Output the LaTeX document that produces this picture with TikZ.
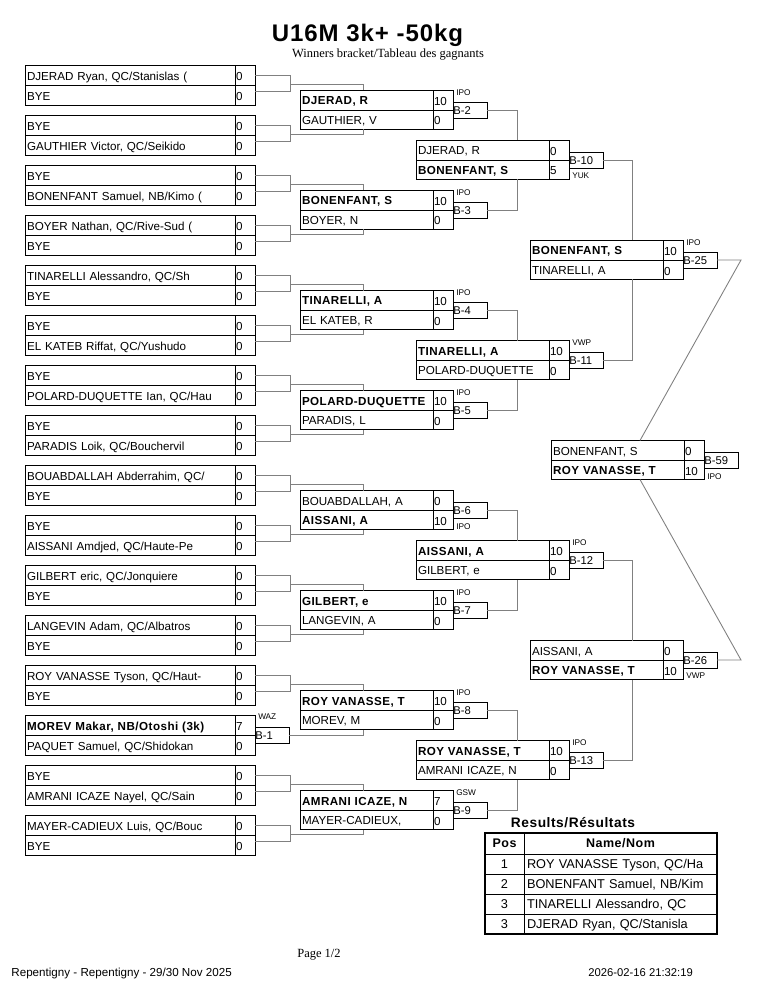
\documentclass[tikz,border=0pt]{standalone}
\usepackage{fontspec}
\setmainfont{Liberation Sans}[BoldFeatures={LetterSpace=4.0}]
\newfontfamily\timesfont{Liberation Serif}
\usepackage{tikz}
\usetikzlibrary{positioning, calc}

\begin{document}
\begin{tikzpicture}[x=0.8pt, y=-0.8pt,
    cell/.style={draw, line width=0.7pt, outer sep=0pt, inner xsep=1.6pt, inner ysep=0pt,
        align=left, text height=9.6pt, text depth=1.2pt, font=\fontsize{9.3}{10}\selectfont},
    entrant/.style={cell, text width=164.8pt, minimum height=16pt},
    fighter/.style={cell, text width=103.2pt, minimum height=15.6pt, text height=8.8pt},
    score/.style={cell, inner xsep=0.8pt, text width=14.4pt, minimum height=#1},
    score/.default=16pt,
    boutbox/.style={draw, line width=0.7pt, fill=white, outer sep=0pt, inner xsep=0.2pt, inner ysep=0pt,
        text width=26.8pt, minimum height=12.8pt, align=left, text height=6.5pt, text depth=0pt,
        font=\fontsize{9}{10}\selectfont},
    result/.style={inner sep=0pt, font=\fontsize{6.6}{7}\selectfont},
    link/.style={draw=black!50, line width=0.7pt},
    tcell/.style={draw, line width=0.7pt, outer sep=0pt, inner xsep=2.4pt, inner ysep=0pt,
        minimum height=16pt, text height=8pt, text depth=1.6pt, font=\fontsize{10.2}{12}\selectfont},
]
\fill[white] (0,0) rectangle (765,990);
\useasboundingbox (0,0) rectangle (765,990);

% Heading
\node[font=\bfseries\fontsize{19.2}{22}\selectfont, anchor=base] (title) at (367.5,42) {U16M 3k+ -50kg};
\node[font=\timesfont\fontsize{10}{12}\selectfont, anchor=base] (subtitle) at (388,58) {Winners bracket/Tableau des gagnants};

% First round
\foreach \pr/\nameA/\scoreA/\nameB/\scoreB in {
    1/{DJERAD Ryan, QC/Stanislas (}/0/BYE/0,
    2/BYE/0/{GAUTHIER Victor, QC/Seikido}/0,
    3/BYE/0/{BONENFANT Samuel, NB/Kimo (}/0,
    4/{BOYER Nathan, QC/Rive-Sud (}/0/BYE/0,
    5/{TINARELLI Alessandro, QC/Sh}/0/BYE/0,
    6/BYE/0/{EL KATEB Riffat, QC/Yushudo}/0,
    7/BYE/0/{POLARD-DUQUETTE Ian, QC/Hau}/0,
    8/BYE/0/{PARADIS Loik, QC/Bouchervil}/0,
    9/{BOUABDALLAH Abderrahim, QC/}/0/BYE/0,
    10/BYE/0/{AISSANI Amdjed, QC/Haute-Pe}/0,
    11/{GILBERT eric, QC/Jonquiere}/0/BYE/0,
    12/{LANGEVIN Adam, QC/Albatros}/0/BYE/0,
    13/{ROY VANASSE Tyson, QC/Haut-}/0/BYE/0,
    14/{\bfseries MOREV Makar, NB/Otoshi (3k)}/7/{PAQUET Samuel, QC/Shidokan}/0,
    15/BYE/0/{AMRANI ICAZE Nayel, QC/Sain}/0,
    16/{MAYER-CADIEUX Luis, QC/Bouc}/0/BYE/0} {
    \pgfmathsetmacro{\ytop}{15+50*\pr}
    \node[entrant, anchor=north west] (pa\pr) at (25,\ytop) {\nameA};
    \node[entrant, below=0pt of pa\pr] (pb\pr) {\nameB};
    \node[score, right=0pt of pa\pr] (sa\pr) {\scoreA};
    \node[score, right=0pt of pb\pr] (sb\pr) {\scoreB};
}

% Brackets of the first round
\foreach \pr in {1,...,13,15,16} {
    \draw[link] (sa\pr.east) -- ++(35,0) |- ([yshift=3.2pt]sb\pr.east);
    \coordinate (j\pr) at ($(sa\pr.east)+(35,9)$);
}
\node[boutbox, anchor=west] (b1) at (sa14.south east) {B-1};
\node[result, anchor=south west] (l1) at ([xshift=2.4pt, yshift=5.6pt]b1.north west) {WAZ};
\coordinate (j14) at (b1.east);

% Later rounds
\foreach \id/\x/\y/\nameA/\scoreA/\nameB/\scoreB/\lab/\up in {
    2/300/110/{\bfseries DJERAD, R}/10/{GAUTHIER, V}/0/IPO/1,
    3/300/210/{\bfseries BONENFANT, S}/10/{BOYER, N}/0/IPO/1,
    4/300/310/{\bfseries TINARELLI, A}/10/{EL KATEB, R}/0/IPO/1,
    5/300/410/{\bfseries POLARD-DUQUETTE}/10/{PARADIS, L}/0/IPO/1,
    6/300/510/{BOUABDALLAH, A}/0/{\bfseries AISSANI, A}/10/IPO/0,
    7/300/610/{\bfseries GILBERT, e}/10/{LANGEVIN, A}/0/IPO/1,
    8/300/710/{\bfseries ROY VANASSE, T}/10/{MOREV, M}/0/IPO/1,
    9/300/810/{\bfseries AMRANI ICAZE, N}/7/{MAYER-CADIEUX,}/0/GSW/1,
    10/416/160/{DJERAD, R}/0/{\bfseries BONENFANT, S}/5/YUK/0,
    11/416/360/{\bfseries TINARELLI, A}/10/POLARD-DUQUETTE/0/VWP/1,
    12/416/560/{\bfseries AISSANI, A}/10/{GILBERT, e}/0/IPO/1,
    13/416/760/{\bfseries ROY VANASSE, T}/10/{AMRANI ICAZE, N}/0/IPO/1,
    25/530/260/{\bfseries BONENFANT, S}/10/{TINARELLI, A}/0/IPO/1,
    26/530/660/{AISSANI, A}/0/{\bfseries ROY VANASSE, T}/10/VWP/0,
    59/551/460/{BONENFANT, S}/0/{\bfseries ROY VANASSE, T}/10/IPO/0} {
    \node[fighter, anchor=south west] (na\id) at (\x,\y) {\nameA};
    \node[fighter, below=0pt of na\id] (nb\id) {\nameB};
    \node[score=15.6pt, right=0pt of na\id] (qa\id) {\scoreA};
    \node[score=15.6pt, right=0pt of nb\id] (qb\id) {\scoreB};
    \node[boutbox, anchor=west] (b\id) at (qa\id.south east) {B-\id};
    \ifnum\up=1
        \node[result, anchor=south west] (l\id) at ([xshift=2.4pt, yshift=5.2pt]b\id.north west) {\lab};
    \else
        \node[result, anchor=north west] (l\id) at ([xshift=2.4pt, yshift=-4pt]b\id.south west) {\lab};
    \fi
}

% Connectors
\foreach \pr/\bout/\row/\corner in {1/2/a/north west, 2/2/b/south west, 3/3/a/north west, 4/3/b/south west,
    5/4/a/north west, 6/4/b/south west, 7/5/a/north west, 8/5/b/south west,
    9/6/a/north west, 10/6/b/south west, 11/7/a/north west, 12/7/b/south west,
    13/8/a/north west, 14/8/b/south west, 15/9/a/north west, 16/9/b/south west}
    \draw[link] (j\pr) -| ([xshift=50.4pt]n\row\bout.\corner);
\foreach \id/\bout/\row/\corner in {2/10/a/north west, 3/10/b/south west, 4/11/a/north west, 5/11/b/south west,
    6/12/a/north west, 7/12/b/south west, 8/13/a/north west, 9/13/b/south west}
    \draw[link] (b\id.east) -| ([xshift=80.8pt]n\row\bout.\corner);
\foreach \id/\bout/\row/\corner in {10/25/a/north west, 11/25/b/south west, 12/26/a/north west, 13/26/b/south west}
    \draw[link] (b\id.east) -| ([xshift=81.6pt]n\row\bout.\corner);
\draw[link] (b25.east) -- ++(24,0) -- ([xshift=71.2pt]na59.north west);
\draw[link] (b26.east) -- ++(24,0) -- ([xshift=71.2pt]nb59.south west);

% Results
\node[font=\bfseries\fontsize{11}{13}\selectfont, anchor=base] (restitle) at (573,827) {Results/Résultats};
\node[tcell, anchor=north west, minimum width=31.2pt, minimum height=16.8pt,
    font=\bfseries\fontsize{10}{12}\selectfont] (hpos) at (485,833) {Pos};
\node[tcell, right=0pt of hpos, minimum width=154.4pt, minimum height=16.8pt,
    font=\bfseries\fontsize{10}{12}\selectfont] (hname) {Name/Nom};
\foreach \rk/\place/\who in {1/1/{ROY VANASSE Tyson, QC/Ha}, 2/2/{BONENFANT Samuel, NB/Kim},
    3/3/{TINARELLI Alessandro, QC}, 4/3/{DJERAD Ryan, QC/Stanisla}} {
    \node[tcell, anchor=north west, minimum width=31.2pt] (pos\rk) at (485,834+20*\rk) {\place};
    \node[tcell, right=0pt of pos\rk, text width=149.6pt, align=left] (who\rk) {\who};
}
\draw[line width=1.3pt] (hpos.north west) rectangle (who4.south east);

% Footer
\node[font=\timesfont\fontsize{10}{12}\selectfont, anchor=base] (page) at (319,957) {Page 1/2};
\node[font=\fontsize{9.3}{10}\selectfont, anchor=base west] (venue) at (7,976) {Repentigny - Repentigny - 29/30 Nov 2025};
\node[font=\fontsize{9}{10}\selectfont, anchor=base west] (stamp) at (584,976) {2026-02-16 21:32:19};
\end{tikzpicture}
\end{document}
